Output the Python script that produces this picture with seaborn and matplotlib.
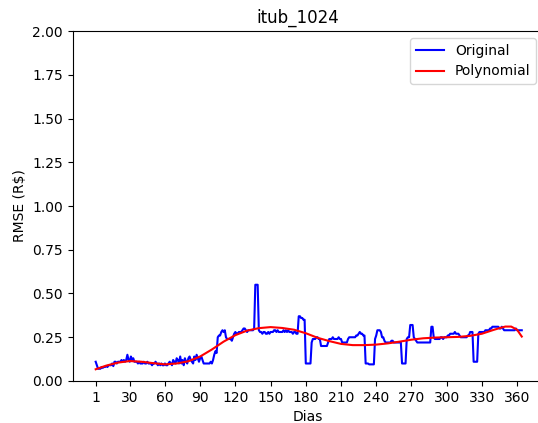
import numpy as np
import matplotlib
matplotlib.use("Agg")
import matplotlib.pyplot as plt
import seaborn as sns

# daily RMSE values (R$), days 1..364
original = [
    0.11, 0.09, 0.07, 0.07, 0.07, 0.08, 0.075, 0.08, 0.08, 0.085,
    0.08, 0.09, 0.09, 0.09, 0.10, 0.085, 0.11, 0.11, 0.10, 0.11,
    0.11, 0.11, 0.12, 0.11, 0.12, 0.11, 0.12, 0.15, 0.12, 0.11,
    0.14, 0.12, 0.13, 0.11, 0.11, 0.11, 0.10, 0.11, 0.10, 0.10,
    0.10, 0.11, 0.10, 0.10, 0.11, 0.10, 0.10, 0.10, 0.09, 0.10,
    0.10, 0.11, 0.10, 0.09, 0.10, 0.09, 0.10, 0.09, 0.09, 0.10,
    0.09, 0.09, 0.10, 0.11, 0.10, 0.09, 0.12, 0.11, 0.10, 0.13,
    0.12, 0.10, 0.14, 0.10, 0.12, 0.09, 0.13, 0.11, 0.10, 0.13,
    0.14, 0.12, 0.11, 0.10, 0.14, 0.12, 0.15, 0.13, 0.11, 0.13,
    0.14, 0.12, 0.10, 0.10, 0.10, 0.10, 0.10, 0.10, 0.11, 0.10,
    0.12, 0.15, 0.17, 0.16, 0.25, 0.26, 0.26, 0.28, 0.29, 0.28,
    0.29, 0.25, 0.24, 0.24, 0.24, 0.24, 0.23, 0.25, 0.27, 0.28,
    0.27, 0.27, 0.28, 0.28, 0.28, 0.29, 0.30, 0.30, 0.29, 0.28,
    0.29, 0.29, 0.29, 0.29, 0.29, 0.30, 0.55, 0.55, 0.55, 0.29,
    0.28, 0.28, 0.27, 0.28, 0.28, 0.27, 0.27, 0.28, 0.27, 0.28,
    0.28, 0.28, 0.29, 0.29, 0.28, 0.29, 0.28, 0.28, 0.28, 0.28,
    0.29, 0.28, 0.29, 0.28, 0.29, 0.28, 0.28, 0.28, 0.27, 0.28,
    0.28, 0.27, 0.27, 0.37, 0.37, 0.36, 0.36, 0.35, 0.35, 0.10,
    0.10, 0.10, 0.10, 0.10, 0.22, 0.24, 0.24, 0.24, 0.25, 0.25,
    0.24, 0.24, 0.20, 0.20, 0.20, 0.20, 0.20, 0.20, 0.22, 0.24,
    0.24, 0.24, 0.25, 0.24, 0.24, 0.24, 0.24, 0.25, 0.24, 0.24,
    0.22, 0.22, 0.22, 0.22, 0.22, 0.24, 0.25, 0.25, 0.25, 0.25,
    0.25, 0.25, 0.26, 0.26, 0.27, 0.28, 0.27, 0.27, 0.26, 0.26,
    0.10, 0.10, 0.10, 0.095, 0.095, 0.095, 0.095, 0.095, 0.24, 0.26,
    0.29, 0.29, 0.29, 0.28, 0.25, 0.25, 0.23, 0.22, 0.22, 0.22,
    0.22, 0.22, 0.23, 0.23, 0.22, 0.22, 0.22, 0.22, 0.22, 0.22,
    0.22, 0.10, 0.10, 0.10, 0.10, 0.24, 0.25, 0.25, 0.32, 0.32,
    0.32, 0.25, 0.24, 0.23, 0.22, 0.22, 0.22, 0.22, 0.22, 0.22,
    0.22, 0.22, 0.22, 0.22, 0.22, 0.22, 0.31, 0.31, 0.25, 0.24,
    0.24, 0.24, 0.24, 0.24, 0.25, 0.25, 0.24, 0.25, 0.25, 0.25,
    0.26, 0.26, 0.27, 0.27, 0.27, 0.27, 0.28, 0.27, 0.27, 0.27,
    0.26, 0.25, 0.25, 0.25, 0.25, 0.25, 0.25, 0.26, 0.26, 0.28,
    0.28, 0.28, 0.11, 0.11, 0.11, 0.11, 0.27, 0.28, 0.28, 0.28,
    0.28, 0.28, 0.29, 0.29, 0.29, 0.29, 0.30, 0.30, 0.31, 0.31,
    0.31, 0.31, 0.31, 0.31, 0.30, 0.30, 0.31, 0.30, 0.29, 0.29,
    0.29, 0.29, 0.29, 0.29, 0.29, 0.29, 0.29, 0.29, 0.30, 0.29,
    0.29, 0.29, 0.29, 0.29,
]
days = list(range(1, len(original) + 1))

# polynomial curve
poly_days = [1, 10, 20, 30, 40, 50, 60, 70, 80, 90, 100, 110, 120, 130,
             140, 150, 160, 170, 180, 190, 200, 210, 220, 230, 240, 250,
             260, 270, 280, 290, 300, 310, 320, 330, 340, 345, 350, 355,
             360, 364]
poly_vals = [0.067, 0.088, 0.105, 0.114, 0.110, 0.102, 0.095, 0.100, 0.113,
             0.140, 0.180, 0.225, 0.262, 0.288, 0.302, 0.308, 0.303, 0.293,
             0.273, 0.247, 0.228, 0.212, 0.205, 0.205, 0.208, 0.215, 0.225,
             0.236, 0.244, 0.248, 0.250, 0.252, 0.258, 0.270, 0.292, 0.302,
             0.311, 0.311, 0.293, 0.254]

xticks = [1, 30, 60, 90, 120, 150, 180, 210, 240, 270, 300, 330, 360]
yticks = [0.0, 0.25, 0.5, 0.75, 1.0, 1.25, 1.5, 1.75, 2.0]

fig = plt.figure(figsize=(5.38, 4.23), dpi=100)
ax = fig.add_axes([0.1351, 0.0993, 0.8742, 0.8274])

sns.lineplot(x=days, y=original, color="blue", label="Original", ax=ax)
sns.lineplot(x=poly_days, y=poly_vals, color="red", label="Polynomial", ax=ax)

ax.set_xlim(-18.6, 382.1)
ax.set_ylim(0, 2)
ax.set_xticks(xticks)
ax.set_yticks(yticks)
ax.set_yticklabels([f"{v:.2f}" for v in yticks])
ax.set_xlabel("Dias")
ax.set_ylabel("RMSE (R$)")
ax.set_title("itub_1024", x=0.4795)
ax.legend(loc="upper right")

fig.savefig("out.png", dpi=100)
